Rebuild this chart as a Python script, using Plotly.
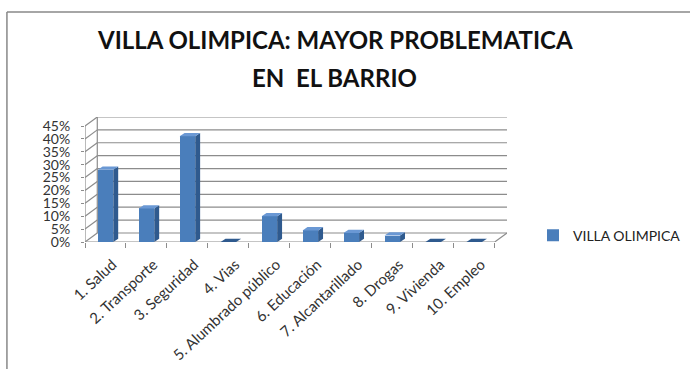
import plotly.graph_objects as go

categories = ["1. Salud", "2. Transporte", "3. Seguridad", "4. Vias", "5. Alumbrado público",
              "6. Educación", "7. Alcantarillado", "8. Drogas", "9. Vivienda", "10. Empleo"]
values = [28, 13, 41, 0, 10, 4.5, 3.5, 2.5, 0, 0]
series_name = "VILLA OLIMPICA"
y_ticks = [0, 5, 10, 15, 20, 25, 30, 35, 40, 45]
y_ticklabels = [f"{t}%" for t in y_ticks]

FONT = "Lato"
FRONT = "#4A7EBB"
SIDE = "#2F5A8E"
TOP = "#6A98D4"
GRID = "#8C8C8C"

# 3D look parameters (in axis units)
W = 0.38      # bar width
BDX = 0.12    # bar depth dx
BDY = 1.3     # bar depth dy (%)
DX = 0.3      # wall depth dx
DY = 3.5      # wall depth dy (%)
LABEL_SHIFT = 0.17  # labels sit at mid-depth of the 3D floor
n = len(categories)
xs = list(range(n))

fig = go.Figure()
fig.add_trace(go.Bar(x=xs, y=values, width=W, marker=dict(color=FRONT, line=dict(width=0)),
                     name=series_name, showlegend=True))
for i, v in zip(xs, values):
    xr = i + W / 2
    xl = i - W / 2
    fig.add_trace(go.Scatter(x=[xr, xr + BDX, xr + BDX, xr, xr], y=[0, BDY, v + BDY, v, 0],
                             fill="toself", fillcolor=SIDE, line=dict(width=0), mode="lines",
                             showlegend=False, hoverinfo="skip"))
    fig.add_trace(go.Scatter(x=[xl, xr, xr + BDX, xl + BDX, xl], y=[v, v, v + BDY, v + BDY, v],
                             fill="toself", fillcolor=TOP if v > 0 else SIDE, line=dict(width=0),
                             mode="lines", showlegend=False, hoverinfo="skip"))

shapes = []
x0, x1 = -0.5, n - 0.5
for t in y_ticks:
    shapes.append(dict(type="line", xref="x", yref="y", x0=x0 + DX, x1=x1 + DX, y0=t + DY, y1=t + DY,
                       line=dict(color=GRID, width=1.2), layer="below"))
    shapes.append(dict(type="line", xref="x", yref="y", x0=x0, x1=x0 + DX, y0=t, y1=t + DY,
                       line=dict(color=GRID, width=1.2), layer="below"))
shapes.append(dict(type="line", xref="x", yref="y", x0=x0, x1=x0, y0=0, y1=y_ticks[-1],
                   line=dict(color=GRID, width=1.2), layer="below"))
shapes.append(dict(type="line", xref="x", yref="y", x0=x0 + DX, x1=x0 + DX, y0=DY, y1=y_ticks[-1] + DY,
                   line=dict(color=GRID, width=1.2), layer="below"))
shapes.append(dict(type="line", xref="x", yref="y", x0=x0, x1=x1, y0=0, y1=0,
                   line=dict(color=GRID, width=1.2), layer="below"))
shapes.append(dict(type="line", xref="x", yref="y", x0=x1, x1=x1 + DX, y0=0, y1=DY,
                   line=dict(color=GRID, width=1.2), layer="below"))
# outer chart border (top and left)
shapes.append(dict(type="line", xref="paper", yref="paper", x0=-0.185, x1=1.5, y0=1.84, y1=1.84,
                   line=dict(color="#888888", width=1.5)))
shapes.append(dict(type="line", xref="paper", yref="paper", x0=-0.185, x1=-0.185, y0=1.84, y1=-1.2,
                   line=dict(color="#888888", width=1.5)))

fig.update_layout(
    width=690, height=369,
    margin=dict(l=85, r=183, t=117, b=127, autoexpand=False),
    paper_bgcolor="white", plot_bgcolor="rgba(0,0,0,0)",
    font=dict(family=FONT, color="#333333"),
    shapes=shapes,
    bargap=0,
    showlegend=True,
    legend=dict(x=(533 - 85) / 422, y=0.05, xanchor="left", yanchor="middle",
                font=dict(size=14, color="#222222"), bgcolor="rgba(0,0,0,0)"),
    annotations=[
        dict(text="<b>VILLA OLIMPICA: MAYOR PROBLEMATICA</b>", xref="paper", yref="paper",
             x=(335 - 85) / 422, y=(242 - 40) / 125, xanchor="center", yanchor="middle",
             showarrow=False, font=dict(size=24, color="#111111", family=FONT)),
        dict(text="<b>EN  EL BARRIO</b>", xref="paper", yref="paper",
             x=(334 - 85) / 422, y=(242 - 77) / 125, xanchor="center", yanchor="middle",
             showarrow=False, font=dict(size=24, color="#111111", family=FONT)),
    ],
)
fig.update_xaxes(range=[x0, x1 + DX], tickvals=[i + LABEL_SHIFT for i in xs], ticktext=categories,
                 tickangle=-43, tickfont=dict(size=15, color="#333333"), showgrid=False, zeroline=False,
                 showline=False, ticks="", automargin=False, ticklabelstandoff=10,
                 minor=dict(tick0=-0.5, dtick=1, ticks="outside", ticklen=5, tickcolor=GRID, showgrid=False))
fig.update_yaxes(range=[0, y_ticks[-1] + DY], tickvals=y_ticks, ticktext=y_ticklabels,
                 tickfont=dict(size=14, color="#333333"), showgrid=False, zeroline=False,
                 showline=False, ticks="outside", ticklen=3, tickcolor=GRID, automargin=False,
                 ticklabelstandoff=8)

fig.write_html("out.html", config={"displayModeBar": False},
               post_script="document.body.style.margin='0';document.body.style.overflow='hidden';")
